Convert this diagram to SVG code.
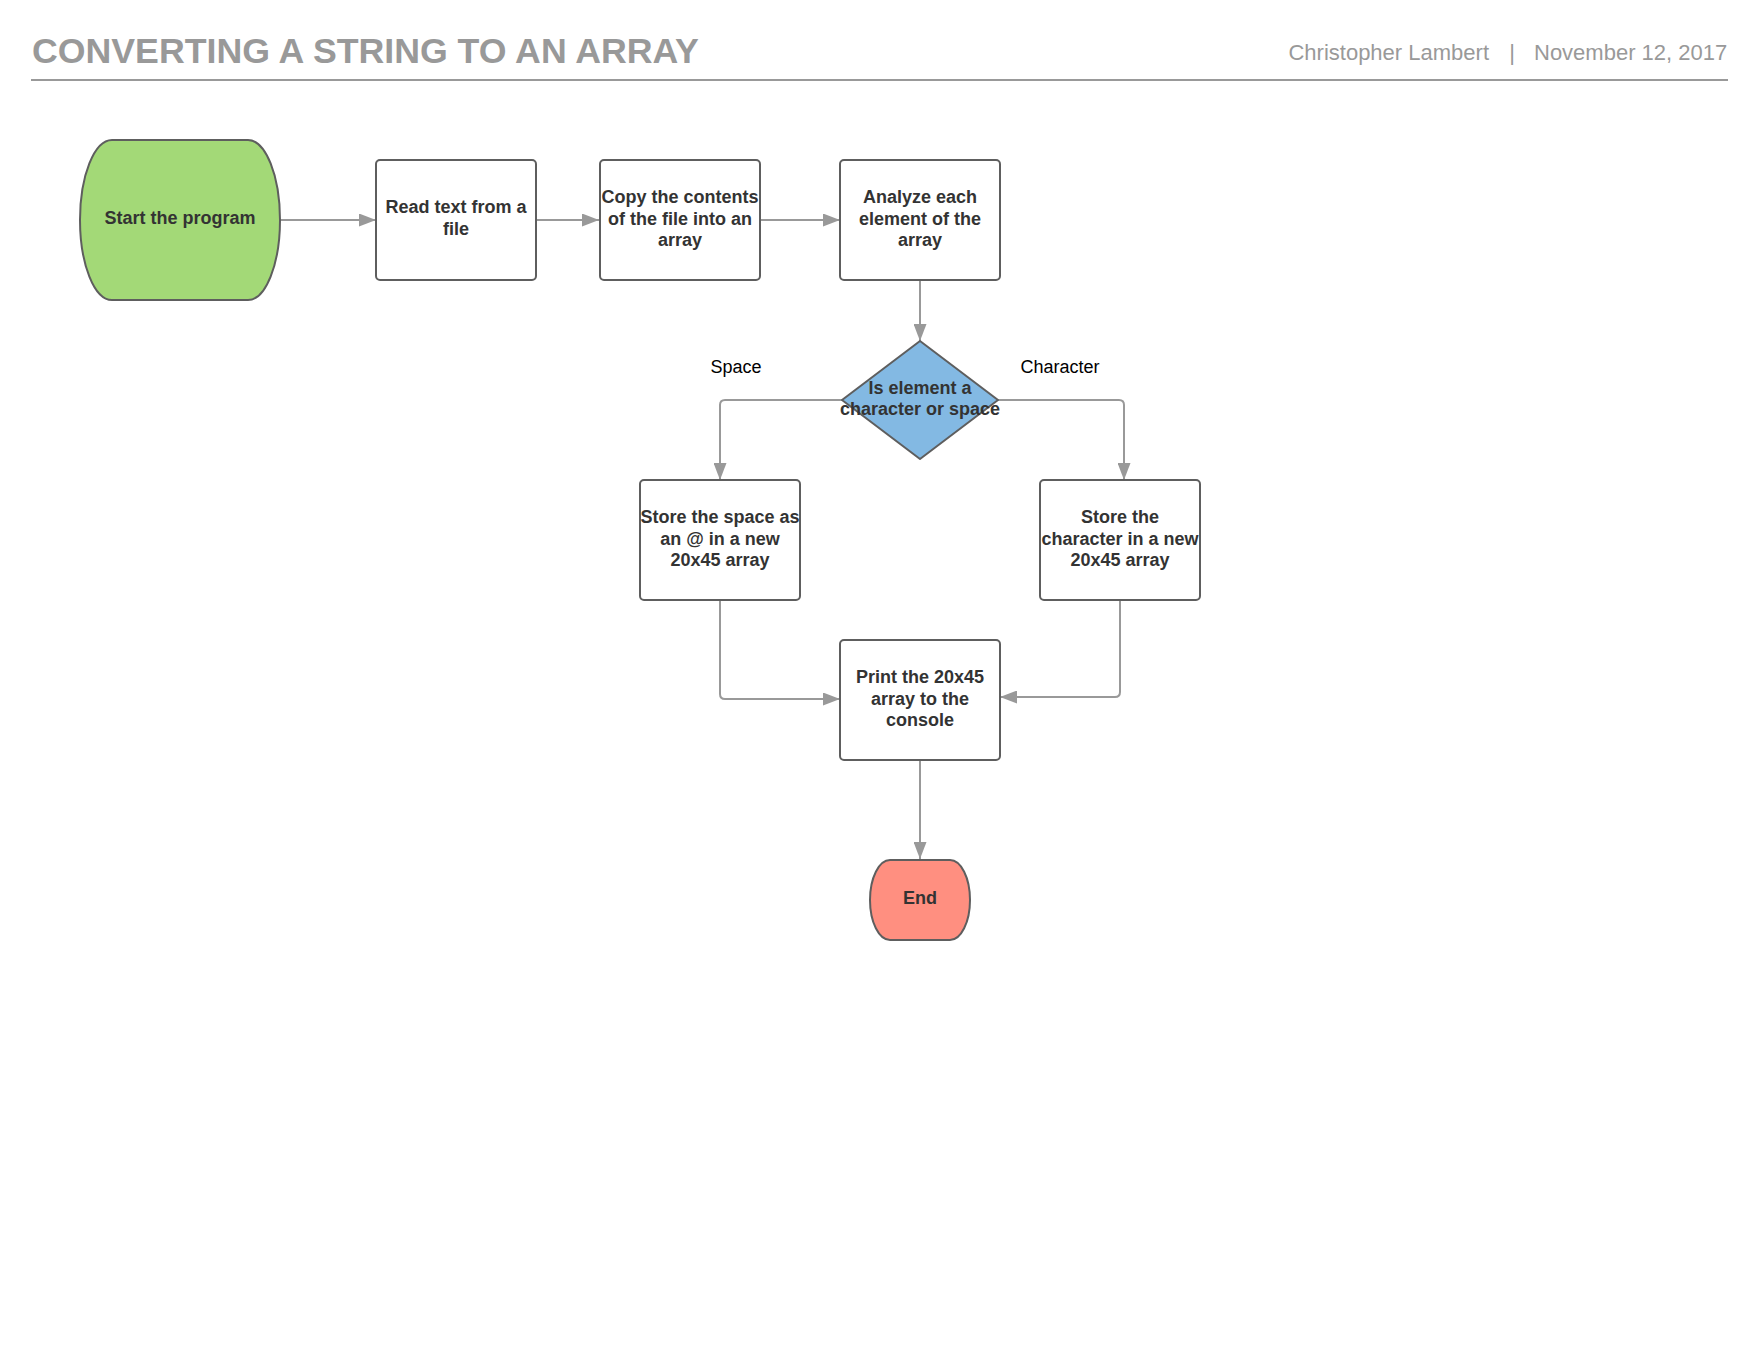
<svg xmlns="http://www.w3.org/2000/svg" width="1760" height="1360" viewBox="0 0 1760 1360">
<style>
.hdr{font-family:"Liberation Sans",Arial,sans-serif;fill:#999999}
.node{stroke:#5e5e5e;stroke-width:2}
.box{fill:#ffffff}
.lbl{font-family:"Liberation Sans",Arial,sans-serif;font-size:18px;font-weight:bold;fill:#333333;text-anchor:middle}
.elbl{font-family:"Liberation Sans",Arial,sans-serif;font-size:18px;fill:#000000;text-anchor:middle}
.conn{fill:none;stroke:#999999;stroke-width:2;marker-end:url(#arr)}
</style>
<defs>
<marker id="arr" markerUnits="userSpaceOnUse" markerWidth="17" markerHeight="13" refX="17" refY="6.5" orient="auto">
<path d="M0,0 L17,6.5 L0,13 z" fill="#999999"/>
</marker>
</defs>
<rect width="1760" height="1360" fill="#ffffff"/>
<g id="header">
<text class="hdr" x="32" y="63" font-size="35.7" font-weight="bold">CONVERTING A STRING TO AN ARRAY</text>
<text class="hdr" x="1489" y="60" font-size="22" text-anchor="end">Christopher Lambert</text>
<text class="hdr" x="1512" y="60" font-size="22" text-anchor="middle">|</text>
<text class="hdr" x="1534" y="60" font-size="22">November 12, 2017</text>
<line x1="31" y1="80" x2="1728" y2="80" stroke="#999999" stroke-width="2"/>
</g>
<g id="connectors">
<path class="conn" d="M280,220 H376"/>
<path class="conn" d="M536,220 H599"/>
<path class="conn" d="M760,220 H840"/>
<path class="conn" d="M920,280 V341"/>
<path class="conn" d="M842,400 H725 Q720,400 720,405 V480"/>
<path class="conn" d="M998,400 H1119 Q1124,400 1124,405 V480"/>
<path class="conn" d="M720,600 V694 Q720,699 725,699 H840"/>
<path class="conn" d="M1120,600 V692 Q1120,697 1115,697 H1000"/>
<path class="conn" d="M920,760 V859"/>
</g>
<g id="edge-labels">
<text class="elbl" x="736" y="373">Space</text>
<text class="elbl" x="1060" y="373">Character</text>
</g>
<g id="start">
<rect class="node" x="80" y="140" width="200" height="160" rx="32" ry="80" fill="#a3d977"/>
<text class="lbl" x="180" y="224">Start the program</text>
</g>
<g id="read">
<rect class="node box" x="376" y="160" width="160" height="120" rx="4"/>
<text class="lbl" x="456" y="213">Read text from a</text>
<text class="lbl" x="456" y="234.5">file</text>
</g>
<g id="copy">
<rect class="node box" x="600" y="160" width="160" height="120" rx="4"/>
<text class="lbl" x="680" y="203">Copy the contents</text>
<text class="lbl" x="680" y="224.5">of the file into an</text>
<text class="lbl" x="680" y="246">array</text>
</g>
<g id="analyze">
<rect class="node box" x="840" y="160" width="160" height="120" rx="4"/>
<text class="lbl" x="920" y="203">Analyze each</text>
<text class="lbl" x="920" y="224.5">element of the</text>
<text class="lbl" x="920" y="246">array</text>
</g>
<g id="decision">
<path class="node" d="M920,341 L998,400 L920,459 L842,400 Z" fill="#83b9e3" stroke-linejoin="round"/>
<text class="lbl" x="920" y="393.5">Is element a</text>
<text class="lbl" x="920" y="415">character or space</text>
</g>
<g id="store-space">
<rect class="node box" x="640" y="480" width="160" height="120" rx="4"/>
<text class="lbl" x="720" y="523">Store the space as</text>
<text class="lbl" x="720" y="544.5">an @ in a new</text>
<text class="lbl" x="720" y="566">20x45 array</text>
</g>
<g id="store-char">
<rect class="node box" x="1040" y="480" width="160" height="120" rx="4"/>
<text class="lbl" x="1120" y="523">Store the</text>
<text class="lbl" x="1120" y="544.5">character in a new</text>
<text class="lbl" x="1120" y="566">20x45 array</text>
</g>
<g id="print">
<rect class="node box" x="840" y="640" width="160" height="120" rx="4"/>
<text class="lbl" x="920" y="683">Print the 20x45</text>
<text class="lbl" x="920" y="704.5">array to the</text>
<text class="lbl" x="920" y="726">console</text>
</g>
<g id="end">
<rect class="node" x="870" y="860" width="100" height="80" rx="20" ry="40" fill="#ff8f80"/>
<text class="lbl" x="920" y="904">End</text>
</g>
</svg>
